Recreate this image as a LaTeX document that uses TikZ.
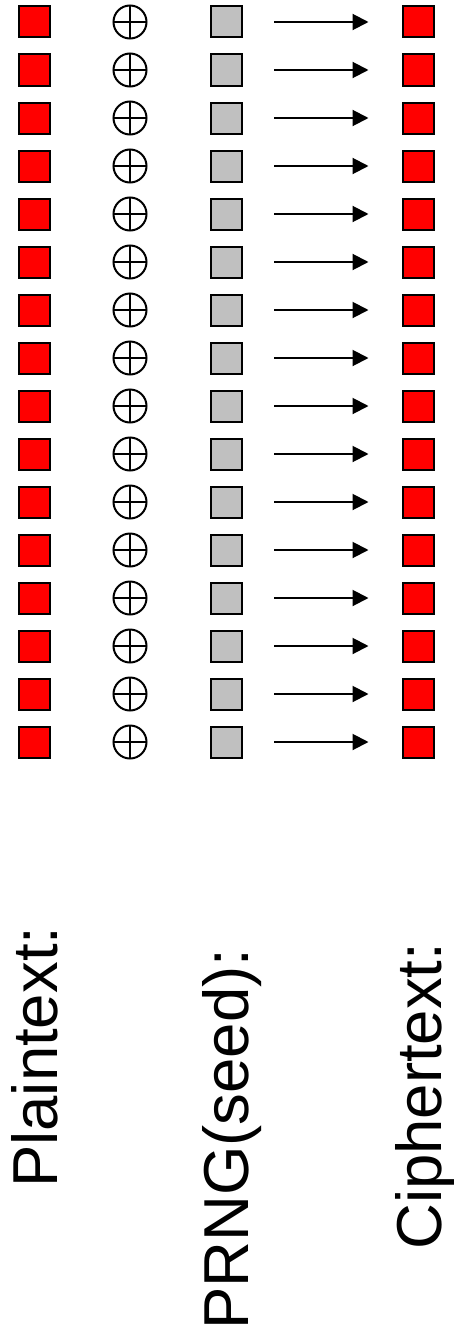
\documentclass[tikz,border=0pt]{standalone}
\usepackage{fontspec}
\setmainfont{Liberation Sans}
\usetikzlibrary{arrows.meta}
\definecolor{silber}{RGB}{192,192,192}
\begin{document}
\begin{tikzpicture}[
      x=1pt, y=-1pt,
      klar/.style={rectangle, draw=black, fill=red, line width=2pt, minimum size=31pt, inner sep=0pt},
      strom/.style={klar, fill=silber},
      xorop/.style={circle, draw=black, line width=2pt, minimum size=33pt, inner sep=0pt,
        path picture={\draw[line width=2pt] (path picture bounding box.north) -- (path picture bounding box.south)
          (path picture bounding box.west) -- (path picture bounding box.east);}},
      pfeil/.style={-{Triangle[length=16pt, width=16pt]}, line width=2pt, shorten <=31.5pt, shorten >=33pt},
      titel/.style={rotate=90, anchor=base west, inner sep=0pt, font=\fontsize{63.5}{63.5}\selectfont}
    ]
      \useasboundingbox (0,0) rectangle (453,1338);
      \foreach \i in {1,...,16} {
        \pgfmathsetmacro\zeile{22+48*(\i-1)}
        \node[klar] (p\i) at (34,\zeile) {};
        \node[xorop] (x\i) at (130,\zeile) {};
        \node[strom] (s\i) at (226,\zeile) {};
        \node[klar] (c\i) at (418,\zeile) {};
        \draw[pfeil] (s\i) -- (c\i);
      }

      \node[titel] (klartext) at (57,1188) {Plaintext:};
      \node[titel] (prng) at (248,1330) {PRNG(seed):};
      \node[titel] (chiffrat) at (441,1250) {Ciphertext:};
    \end{tikzpicture}
\end{document}
